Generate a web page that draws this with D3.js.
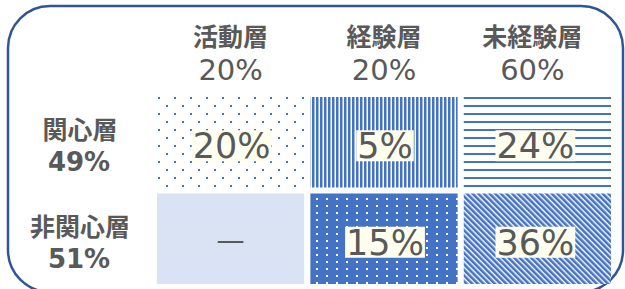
<!DOCTYPE html>
<html lang="ja">
<head>
<meta charset="utf-8">
<title>関心層 x 活動層</title>
<script src="https://cdn.jsdelivr.net/npm/d3@7"></script>
<style>
  body { margin: 0; background: #fff; }
  text { font-family: "Noto Sans CJK JP", "Noto Sans", sans-serif; fill: #595959; }
  text.num { font-family: "DejaVu Sans", sans-serif; }
</style>
</head>
<body>
<script>
// data
var colLabels = ["活動層", "経験層", "未経験層"];
var colShares = ["20%", "20%", "60%"];
var rowLabels = ["関心層", "非関心層"];
var rowShares = ["49%", "51%"];
// cell values, row by row (null = no one)
var cellValues = [
  [20, 5, 24],
  [null, 15, 36]
];
var cellFills = [
  ["dots", "vlines", "hlines"],
  ["plain", "whitedots", "diag"]
];

var w = 625, h = 289;
var blue = "#4472C4";

var svg = d3.select("body").append("svg")
  .attr("width", w)
  .attr("height", h);

// patterns
var defs = svg.append("defs");

var p = defs.append("pattern").attr("id", "dots")
  .attr("patternUnits", "userSpaceOnUse")
  .attr("x", 158).attr("y", 97)
  .attr("width", 16).attr("height", 16);
p.append("rect").attr("x", 0).attr("y", 0).attr("width", 2).attr("height", 2).attr("fill", blue);
p.append("rect").attr("x", 8).attr("y", 8).attr("width", 2).attr("height", 2).attr("fill", blue);

p = defs.append("pattern").attr("id", "vlines")
  .attr("patternUnits", "userSpaceOnUse")
  .attr("x", 312).attr("y", 0)
  .attr("width", 4).attr("height", 4);
p.append("rect").attr("x", 0).attr("y", 0).attr("width", 2.5).attr("height", 4).attr("fill", blue);

p = defs.append("pattern").attr("id", "hlines")
  .attr("patternUnits", "userSpaceOnUse")
  .attr("x", 0).attr("y", 97)
  .attr("width", 8).attr("height", 8);
p.append("rect").attr("x", 0).attr("y", 0).attr("width", 8).attr("height", 2).attr("fill", blue);

p = defs.append("pattern").attr("id", "whitedots")
  .attr("patternUnits", "userSpaceOnUse")
  .attr("x", 316).attr("y", 198)
  .attr("width", 10).attr("height", 7);
p.append("rect").attr("width", 10).attr("height", 7).attr("fill", blue);
p.append("rect").attr("x", 0).attr("y", 0).attr("width", 2).attr("height", 2).attr("fill", "#fff");

p = defs.append("pattern").attr("id", "diag")
  .attr("patternUnits", "userSpaceOnUse")
  .attr("width", 4).attr("height", 4)
  .attr("patternTransform", "rotate(-45)");
p.append("rect").attr("width", 4).attr("height", 4).attr("fill", "#fff");
p.append("rect").attr("x", 0).attr("y", 0).attr("width", 2.6).attr("height", 4).attr("fill", blue);

// outer rounded frame
svg.append("rect")
  .attr("x", 8).attr("y", 6)
  .attr("width", 615).attr("height", 286)
  .attr("rx", 42).attr("ry", 42)
  .attr("fill", "none")
  .attr("stroke", "#2F5597")
  .attr("stroke-width", 2.5);

// scales
var xScale = d3.scaleBand()
  .domain(d3.range(colLabels.length))
  .range([157, 611])
  .paddingInner(0.04);

var yScale = d3.scaleBand()
  .domain(d3.range(rowLabels.length))
  .range([97, 284])
  .paddingInner(0.062);

function colX(i) {
  return xScale(i) + xScale.bandwidth() / 2 - (i == 2 ? 5 : 0);
}

// column headers
var headers = svg.append("g").selectAll("g")
  .data(colLabels)
  .enter().append("g");

headers.append("text")
  .attr("x", function(d, i) { return colX(i); })
  .attr("y", 46)
  .attr("text-anchor", "middle")
  .attr("font-size", 25)
  .attr("font-weight", 700)
  .text(function(d) { return d; });

headers.append("text")
  .attr("class", "num")
  .attr("x", function(d, i) { return colX(i); })
  .attr("y", 80)
  .attr("text-anchor", "middle")
  .attr("font-size", 29)
  .text(function(d, i) { return colShares[i]; });

// row headers
var rows = svg.append("g").selectAll("g")
  .data(rowLabels)
  .enter().append("g");

rows.append("text")
  .attr("x", 80)
  .attr("y", function(d, i) { return yScale(i) + yScale.bandwidth() / 2 - 3; })
  .attr("text-anchor", "middle")
  .attr("font-size", 25)
  .attr("font-weight", 700)
  .text(function(d) { return d; });

rows.append("text")
  .attr("class", "num")
  .attr("x", 79)
  .attr("y", function(d, i) { return yScale(i) + yScale.bandwidth() / 2 + 29; })
  .attr("text-anchor", "middle")
  .attr("font-size", 26)
  .attr("font-weight", 700)
  .text(function(d, i) { return rowShares[i]; });

// cells
var cells = [];
cellValues.forEach(function(r, ri) {
  r.forEach(function(v, ci) {
    cells.push({ row: ri, col: ci, value: v, fill: cellFills[ri][ci] });
  });
});

var cell = svg.append("g").selectAll("g")
  .data(cells)
  .enter().append("g");

cell.append("rect")
  .attr("x", function(d) { return xScale(d.col); })
  .attr("y", function(d) { return yScale(d.row); })
  .attr("width", xScale.bandwidth())
  .attr("height", yScale.bandwidth())
  .attr("fill", function(d) { return d.fill == "plain" ? "#DAE3F3" : "url(#" + d.fill + ")"; });

// labels with ivory backing box
cell.each(function(d) {
  var g = d3.select(this);
  var cx = xScale(d.col) + xScale.bandwidth() / 2 + (d.col == 2 ? -2 : 1);
  var by = yScale(d.row) + yScale.bandwidth() / 2 + 16;
  if (d.value == null) {
    g.append("text")
      .attr("x", cx - 1)
      .attr("y", by - 4)
      .attr("text-anchor", "middle")
      .attr("font-size", 32)
      .text("—");
    return;
  }
  var bg = g.append("rect").attr("fill", "#FFFFF0");
  var t = g.append("text")
    .attr("class", "num")
    .attr("x", cx)
    .attr("y", by)
    .attr("text-anchor", "middle")
    .attr("font-size", 35)
    .text(d.value + "%");
  var bb = t.node().getBBox();
  bg.attr("x", bb.x - 1)
    .attr("y", by - 28)
    .attr("width", bb.width + 2)
    .attr("height", 31);
});
</script>
</body>
</html>
